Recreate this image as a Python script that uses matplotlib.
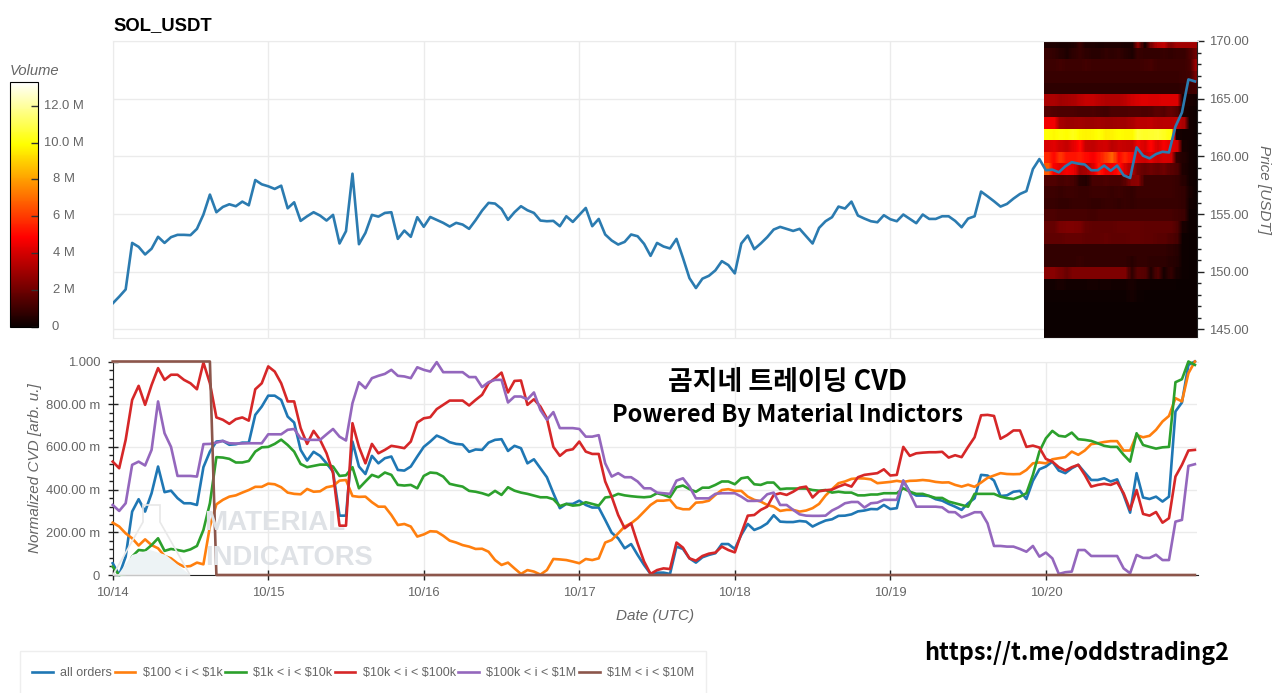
import numpy as np
import pandas as pd
import matplotlib
matplotlib.use("Agg")
import matplotlib.pyplot as plt
from matplotlib.patches import Polygon, Rectangle

plt.rcParams['font.family'] = ['Liberation Sans', 'DejaVu Sans']

hours = pd.date_range('2024-10-14', periods=168, freq='h')

price = [
    147.26, 147.84, 148.47, 152.5, 152.16, 151.5, 152.0, 153.03, 152.5, 153.0, 153.2, 153.2,
    153.17, 153.72, 154.96, 156.69, 155.16, 155.62, 155.85, 155.68, 156.08, 155.76, 157.95, 157.58,
    157.41, 157.18, 157.46, 155.5, 156.02, 154.41, 154.81, 155.16, 154.87, 154.44, 154.93, 152.45,
    153.52, 158.5, 152.39, 153.37, 154.93, 154.78, 155.1, 155.16, 152.85, 153.57, 153.03, 154.73,
    153.9, 154.75, 154.5, 154.24, 153.92, 154.24, 154.09, 153.72, 154.47, 155.3, 155.97, 155.91,
    155.45, 154.5, 155.16, 155.68, 155.33, 155.1, 154.44, 154.38, 154.41, 153.95, 154.81, 154.32,
    154.93, 155.53, 153.95, 154.58, 153.23, 152.71, 152.36, 152.59, 153.23, 153.08, 152.42, 151.38,
    152.5, 152.19, 152.02, 152.85, 151.2, 149.45, 148.59, 149.4, 149.65, 150.12, 150.92, 150.58,
    149.86, 152.45, 153.14, 151.96, 152.45, 153.0, 153.66, 153.89, 153.72, 153.54, 153.72, 153.08,
    152.45, 153.8, 154.38, 154.73, 155.65, 155.48, 156.08, 154.87, 154.61, 154.38, 154.29, 154.9,
    154.55, 154.38, 154.96, 154.58, 154.21, 154.96, 154.58, 154.58, 154.81, 154.81, 154.41, 153.86,
    154.61, 154.81, 156.95, 156.54, 156.11, 155.65, 155.88, 156.34, 156.74, 156.99, 158.9, 159.77,
    158.8, 158.85, 158.62, 159.14, 159.5, 159.37, 159.3, 158.8, 158.8, 159.2, 158.76, 159.2,
    158.36, 158.13, 160.78, 160.06, 159.83, 160.2, 160.4, 160.34, 162.59, 163.8, 166.67, 166.5,
]

all_orders = [
    .055, 0, .086, .297, .355, .297, .383, .508, .388, .395, .36, .336,
    .336, .328, .505, .578, .625, .628, .61, .6125, .62, .62, .75, .789,
    .84, .84, .82, .742, .714, .586, .536, .577, .558, .523, .484, .278,
    .278, .625, .508, .473, .558, .523, .547, .555, .492, .489, .508, .555,
    .60, .625, .653, .64, .622, .614, .611, .577, .588, .586, .62, .633,
    .636, .581, .605, .594, .523, .542, .50, .458, .383, .313, .333, .333,
    .348, .328, .316, .316, .258, .198, .172, .125, .145, .094, .047, .005,
    .011, .011, .005, .133, .122, .078, .058, .083, .094, .102, .145, .145,
    .122, .188, .239, .211, .223, .242, .28, .25, .248, .248, .253, .25,
    .227, .242, .255, .261, .277, .278, .284, .298, .302, .309, .308, .328,
    .309, .313, .442, .39, .372, .372, .37, .355, .348, .333, .32, .305,
    .336, .359, .469, .466, .442, .37, .373, .39, .394, .356, .441, .495,
    .508, .531, .489, .477, .5, .516, .48, .445, .445, .453, .438, .448,
    .375, .292, .477, .363, .356, .367, .344, .367, .766, .808, .984, 1.0,
]

orders_100_1k = [
    .245, .227, .195, .172, .138, .167, .14, .125, .089, .078, .055, .039,
    .042, .058, .05, .227, .331, .352, .367, .373, .386, .398, .413, .413,
    .428, .425, .411, .386, .38, .378, .403, .39, .392, .411, .417, .442,
    .445, .37, .366, .367, .341, .32, .32, .281, .234, .239, .227, .18,
    .19, .205, .203, .184, .161, .152, .14, .133, .122, .123, .109, .07,
    .047, .058, .031, .005, .023, .016, .002, .023, .075, .073, .07, .063,
    .055, .075, .07, .078, .152, .164, .195, .227, .242, .266, .297, .328,
    .348, .348, .352, .316, .308, .308, .339, .341, .348, .375, .398, .402,
    .394, .394, .367, .352, .344, .328, .32, .3, .305, .305, .297, .302,
    .313, .333, .372, .402, .43, .438, .45, .453, .452, .448, .43, .433,
    .436, .441, .436, .441, .442, .445, .442, .436, .433, .434, .422, .414,
    .423, .413, .433, .455, .466, .477, .473, .472, .473, .492, .523, .527,
    .523, .542, .547, .552, .578, .563, .583, .613, .617, .623, .627, .627,
    .583, .583, .656, .645, .652, .68, .719, .745, .828, .813, .945, 1.0,
]

orders_1k_10k = [
    .039, 0, .005, .086, .117, .114, .14, .172, .113, .122, .117, .111,
    .12, .136, .211, .336, .552, .55, .544, .527, .527, .534, .578, .598,
    .60, .614, .634, .609, .578, .52, .505, .511, .517, .517, .508, .464,
    .467, .505, .406, .438, .469, .458, .48, .469, .422, .419, .422, .406,
    .464, .48, .477, .461, .427, .42, .414, .394, .39, .383, .373, .394,
    .375, .411, .395, .386, .38, .372, .364, .364, .355, .323, .333, .325,
    .328, .341, .333, .325, .363, .367, .38, .373, .369, .366, .364, .367,
    .383, .375, .364, .411, .419, .402, .39, .409, .409, .422, .438, .438,
    .425, .453, .458, .425, .422, .433, .433, .402, .405, .405, .405, .405,
    .398, .395, .398, .386, .39, .386, .386, .373, .373, .377, .377, .383,
    .383, .383, .406, .39, .38, .38, .37, .361, .361, .344, .336, .328,
    .32, .38, .38, .38, .38, .367, .36, .356, .367, .383, .469, .578,
    .64, .675, .652, .648, .667, .636, .633, .628, .617, .605, .60, .60,
    .563, .531, .664, .609, .60, .592, .598, .60, .903, .917, 1.0, .984,
]

orders_10k_100k = [
    .531, .50, .633, .82, .886, .797, .89, .969, .914, .938, .938, .914,
    .898, .87, .995, .898, .738, .727, .708, .73, .738, .723, .87, .898,
    .977, .953, .898, .813, .813, .688, .614, .675, .633, .57, .477, .231,
    .231, .711, .60, .523, .614, .57, .586, .605, .60, .594, .625, .714,
    .734, .739, .777, .797, .817, .817, .817, .794, .82, .844, .898, .922,
    .948, .855, .909, .911, .797, .823, .789, .734, .60, .558, .583, .589,
    .625, .578, .567, .567, .438, .367, .281, .219, .242, .148, .063, .005,
    .023, .031, .028, .152, .128, .078, .067, .089, .10, .105, .133, .117,
    .106, .195, .278, .281, .305, .32, .375, .383, .375, .39, .409, .414,
    .363, .392, .397, .40, .414, .425, .414, .458, .469, .473, .477, .495,
    .466, .469, .60, .558, .57, .573, .575, .575, .577, .55, .561, .552,
    .60, .645, .748, .75, .745, .638, .655, .677, .677, .60, .606, .597,
    .544, .531, .505, .489, .505, .516, .469, .414, .422, .427, .422, .434,
    .383, .305, .398, .286, .278, .295, .245, .266, .461, .516, .583, .586,
]

orders_100k_1m = [
    .328, .30, .336, .516, .531, .513, .586, .813, .664, .60, .464, .464,
    .464, .461, .613, .614, .62, .628, .617, .616, .616, .617, .617, .617,
    .659, .659, .659, .68, .684, .64, .633, .633, .633, .659, .684, .648,
    .63, .805, .903, .875, .922, .933, .942, .961, .933, .93, .922, .973,
    .961, .953, .997, .95, .95, .95, .95, .927, .927, .88, .903, .914,
    .914, .808, .836, .836, .823, .855, .773, .727, .763, .688, .688, .688,
    .684, .648, .648, .655, .523, .461, .477, .458, .458, .438, .406, .406,
    .386, .383, .38, .442, .453, .414, .359, .359, .359, .38, .383, .383,
    .383, .367, .347, .347, .348, .378, .386, .328, .328, .305, .284, .278,
    .277, .277, .278, .302, .317, .336, .342, .342, .316, .336, .339, .352,
    .352, .352, .442, .383, .32, .32, .32, .32, .317, .295, .294, .27,
    .281, .294, .294, .242, .136, .136, .133, .133, .122, .109, .136, .086,
    .105, .078, .005, .013, .016, .117, .117, .089, .089, .089, .089, .089,
    .031, .008, .094, .08, .08, .095, .07, .07, .25, .258, .511, .519,
]

orders_1m_10m = [1.0] * 16 + [0.0] * 152

series_labels = ['all orders', r'\$100 < i < \$1k', r'\$1k < i < \$10k',
                 r'\$10k < i < \$100k', r'\$100k < i < \$1M', r'\$1M < i < \$10M']
series_values = [all_orders, orders_100_1k, orders_1k_10k,
                 orders_10k_100k, orders_100k_1m, orders_1m_10m]
series_colors = ['#1f77b4', '#ff7f0e', '#2ca02c', '#d62728', '#9467bd', '#8c564b']

# volume per price bin (M), top row first, one value per hour of 10/20
heat_volume = [
    [.4, .4, .3, .3, .4, .9, .4, .4, .3, .4, .4, .4, .3, .3, 2.5, .3, 2.2, 3.4, 3.6, 2.4, 3.0, 3.0, 3.0, 3.0],
    [.9, .8, .6, .4, .7, .9, .7, .6, .6, .8, .7, .8, .6, .4, .9, .8, .8, .8, .9, .8, .9, .9, 1.3, 2.0],
    [1.0, 1.0, 1.1, 1.0, 1.0, 1.0, 1.1, 1.0, 1.0, 1.0, 1.0, 1.0, 1.0, 1.0, 1.0, 1.1, 1.2, 1.0, 1.0, 1.0, 1.0, 1.0, 1.2, 2.8],
    [.9, .9, .9, .9, .9, .9, .9, .9, .9, .9, .9, .9, .9, .9, .9, .9, .9, .9, .9, .9, .9, 1.0, 1.1, 2.2],
    [.7, .7, .7, .7, .7, .7, .7, .7, .7, .7, .7, .7, .7, .7, .7, .7, .7, .7, .7, .7, .7, .8, 1.0, 1.1],
    [3.2, 3.2, 3.0, 3.1, 3.2, 3.5, 3.7, 3.7, 3.5, 3.3, 3.3, 3.3, 3.5, 3.9, 4.1, 4.2, 4.1, 4.1, 4.2, 4.2, 4.2, .4, .3, .2],
    [1.5, 1.4, 1.3, 1.3, 1.3, 1.2, 1.2, 1.3, 1.2, 1.1, 1.3, 1.3, 1.3, 1.4, 1.4, 1.3, 1.4, 1.6, 1.5, 1.8, 1.5, .3, .2, .1],
    [4.6, 4.6, 3.1, 2.9, 2.9, 3.0, 2.9, 2.9, 3.0, 2.9, 2.9, 3.0, 3.0, 3.2, 3.5, 3.5, 3.6, 3.4, 3.5, 3.5, 3.7, 3.2, .2, .1],
    [10.0, 9.8, 10.0, 9.9, 10.2, 9.8, 9.7, 9.8, 10.0, 9.6, 9.7, 9.9, 9.8, 9.8, 10.6, 10.4, 10.5, 10.6, 10.3, 10.0, .3, .2, .2, .1],
    [4.1, 4.3, 3.9, 3.7, 4.3, 5.0, 3.7, 3.6, 3.9, 4.0, 3.5, 3.8, 3.7, 3.6, 4.5, 4.1, 4.9, 4.1, 4.7, 4.3, 4.1, .3, .2, .1],
    [5.6, 5.0, 5.9, 5.2, 5.2, 5.4, 5.0, 4.7, 5.2, 6.0, 6.8, 5.0, 5.6, 5.0, 4.1, 3.8, 4.3, 3.8, 4.1, 4.0, .8, .5, .2, .1],
    [6.6, 4.7, 4.3, 4.7, 4.5, 2.9, 3.1, 4.1, 5.4, 4.5, 4.5, 5.2, 4.1, 3.2, 2.1, 1.8, 2.0, 1.8, 2.0, 1.6, 1.4, .4, .2, .1],
    [1.4, 1.4, 1.2, 1.3, 1.2, .6, .5, 1.2, 1.2, 1.3, 1.2, 1.2, 1.6, 2.5, 2.6, 1.0, 1.0, 1.0, 1.0, 1.0, .9, .6, .2, .1],
    [1.0, 1.0, .9, 1.0, 1.0, .9, .9, 1.0, 1.0, 1.0, .9, 1.0, .9, .8, 1.0, 1.0, 1.0, 1.0, 1.0, 1.0, .9, .8, .3, .1],
    [.9, .9, .8, .8, .9, .9, .9, .8, .8, .9, .9, .8, .9, .8, .9, .9, .9, .9, .9, .9, .9, .8, .2, .1],
    [1.3, 1.3, 1.2, 1.2, 1.2, 1.2, 1.2, 1.1, 1.2, 1.2, 1.2, 1.2, 1.2, 1.2, 1.2, 1.2, 1.2, 1.2, 1.2, 1.2, 1.1, 1.0, .1, .05],
    [1.8, 1.8, 2.2, 2.3, 2.3, 2.2, 1.8, 1.7, 1.7, 1.7, 1.7, 1.8, 1.8, 1.8, 1.8, 1.7, 1.7, 1.7, 1.7, 1.7, 1.4, .3, .1, .05],
    [1.7, 1.7, 1.7, 1.8, 1.8, 1.8, 1.7, 1.7, 1.7, 1.8, 1.7, 1.7, 1.7, 1.8, 1.8, 1.7, 1.7, 1.6, 1.6, 1.4, 1.2, .1, .05, .05],
    [.8, .8, .8, .8, .8, .8, .8, .8, .8, .8, .8, .8, .8, .8, .8, .8, .8, .8, .8, .7, .6, .1, .05, .05],
    [.8, .8, .8, .8, .8, .9, .8, .8, .8, .8, .8, .8, .8, .6, .8, .8, .7, .7, .7, .6, .5, .1, .05, .05],
    [2.5, 2.5, 2.2, 1.9, 2.3, 2.3, 2.3, 2.3, 2.3, 2.3, 2.3, 2.3, 2.3, .8, 1.6, 1.5, .5, 1.4, .3, .8, .3, .1, .05, .05],
    [.2, .2, .3, .2, .2, .2, .2, .25, .2, .25, .2, .2, .2, .3, .15, .15, .1, .1, .1, .1, .05, .05, .05, .05],
    [.1, .1, .1, .1, .1, .1, .1, .1, .1, .1, .1, .1, .1, .25, .1, .05, .05, .05, .05, .05, .05, .05, .05, .05],
    [.05, .05, .05, .05, .05, .05, .05, .05, .05, .05, .05, .05, .05, .05, .05, .05, .05, .05, .05, .05, .05, .05, .05, .05],
    [.05, .05, .05, .05, .05, .05, .05, .05, .05, .05, .05, .05, .05, .05, .05, .05, .05, .05, .05, .05, .05, .05, .05, .05],
    [.05, .05, .05, .05, .05, .05, .05, .05, .05, .05, .05, .05, .05, .05, .05, .05, .05, .05, .05, .05, .05, .05, .05, .05],
    [.05, .05, .05, .05, .05, .05, .05, .05, .05, .05, .05, .05, .05, .05, .05, .05, .05, .05, .05, .05, .05, .05, .05, .05],
]
heat_top_price = 170.4
heat_start = pd.Timestamp('2024-10-19 23:45')

day_ticks = pd.date_range('2024-10-14', periods=7, freq='D')
day_labels = ['10/14', '10/15', '10/16', '10/17', '10/18', '10/19', '10/20']
price_ticks = [145, 150, 155, 160, 165, 170]
price_labels = ['145.00', '150.00', '155.00', '160.00', '165.00', '170.00']
cvd_ticks = [0, .2, .4, .6, .8, 1.0]
cvd_labels = ['0', '200.00 m', '400.00 m', '600.00 m', '800.00 m', '1.000']
volume_ticks = [0, 2, 4, 6, 8, 10, 12]
volume_labels = ['0', '2 M', '4 M', '6 M', '8 M', '10.0 M', '12.0 M']
volume_max = 13.3

W, H = 1280, 693
GREY = '#666666'
GRID = '#ebebeb'
DARK = '#222222'


def px_axes(left, top, right, bottom):
    return fig.add_axes([left / W, 1 - bottom / H, (right - left) / W, (bottom - top) / H])


def soften(cells, sub=6, size=5):
    # the screenshot's heatmap is blurred along time: split each hour, then box average
    fine = np.repeat(np.array(cells, dtype=float), sub, axis=1)
    padded = np.pad(fine, [(0, 0), (size // 2, size // 2)], mode='edge')
    return np.apply_along_axis(lambda v: np.convolve(v, np.ones(size) / size, mode='valid'), 1, padded)


fig = plt.figure(figsize=(W / 100, H / 100), dpi=100, facecolor='white')
ax_price = px_axes(112.7, 41, 1197.5, 338)
ax_cvd = px_axes(112.7, 361.5, 1197.5, 575)
cax = px_axes(9.5, 81.7, 38.3, 327)

x_start = hours[0]
x_end = hours[0] + pd.Timedelta(hours=167.4)

# price panel
fine_volume = soften(heat_volume)
n_rows, n_cols = fine_volume.shape
fine_prices = np.linspace(heat_top_price, heat_top_price - len(heat_volume), n_rows + 1)
fine_times = pd.date_range(heat_start, periods=n_cols + 1, freq='10min')
mesh = ax_price.pcolormesh(fine_times, fine_prices, fine_volume, cmap='hot',
                           vmin=0, vmax=volume_max, zorder=2)
ax_price.plot(hours, price, color='#2b7bb0', lw=1.9, zorder=3)
ax_price.set_xlim(x_start, x_end)
ax_price.set_ylim(144.26, 170)
ax_price.set_xticks(day_ticks)
ax_price.tick_params(axis='x', length=0, labelbottom=False)
ax_price.yaxis.tick_right()
ax_price.yaxis.set_label_position('right')
ax_price.set_yticks(price_ticks, price_labels)
ax_price.set_yticks(range(145, 170), minor=True)
ax_price.tick_params(axis='y', which='major', length=5, width=1, color=DARK, labelcolor=GREY, labelsize=9.4, pad=3.5)
ax_price.tick_params(axis='y', which='minor', length=3, width=1, color=DARK)
ax_price.grid(True, color=GRID, lw=1, zorder=0)
ax_price.set_axisbelow(True)
for side in ['top', 'left', 'bottom']:
    ax_price.spines[side].set_color(GRID)
ax_price.spines['right'].set_color(DARK)
ax_price.set_ylabel('Price [USDT]', rotation=270, style='italic', color=GREY, fontsize=11, labelpad=16)
fig.text(113 / W, 1 - 25.5 / H, 'SOL_USDT', fontsize=13.3, weight='bold', color='black', va='center')

# CVD panel
for label, values, color in zip(series_labels, series_values, series_colors):
    ax_cvd.plot(hours, values, color=color, lw=1.9, label=label, zorder=3, clip_on=False)
ax_cvd.set_xlim(x_start, x_end)
ax_cvd.set_ylim(0, 1.0)
ax_cvd.set_xticks(day_ticks, day_labels)
ax_cvd.set_yticks(cvd_ticks, cvd_labels)
ax_cvd.set_yticks([i * .04 for i in range(26)], minor=True)
ax_cvd.tick_params(axis='both', which='major', direction='inout', length=7, width=1, color=DARK,
                   labelcolor=GREY, labelsize=9.4)
ax_cvd.tick_params(axis='x', which='major', pad=5)
ax_cvd.tick_params(axis='y', which='major', pad=5.5)
ax_cvd.tick_params(axis='y', which='minor', length=3, width=1, color=DARK)
ax_cvd.grid(True, color=GRID, lw=1, zorder=0)
ax_cvd.set_axisbelow(True)
ax_cvd.spines['top'].set_color(GRID)
ax_cvd.spines['right'].set_visible(False)
ax_cvd.spines['left'].set_color(DARK)
ax_cvd.spines['bottom'].set_color(DARK)
ax_cvd.set_ylabel('Normalized CVD [arb. u.]', style='italic', color=GREY, fontsize=11, labelpad=3)
ax_cvd.set_xlabel('Date (UTC)', style='italic', color=GREY, fontsize=11, labelpad=7.5)

# watermark
flask_outline = [(143, 505), (160, 505), (160, 522), (190, 575), (113, 575), (143, 522)]
flask_fill = [(118, 575), (132, 555), (150, 550), (166, 555), (190, 575)]
fig.add_artist(Polygon([(x / W, 1 - y / H) for x, y in flask_fill], closed=True, transform=fig.transFigure,
                       facecolor='#edf3f5', edgecolor='none', zorder=0.5))
fig.add_artist(Polygon([(x / W, 1 - y / H) for x, y in flask_outline], closed=True, transform=fig.transFigure,
                       facecolor='none', edgecolor='#e8e8e8', lw=1.2, zorder=0.5))
ax_cvd.patch.set_alpha(0)
ax_price.patch.set_alpha(0)
fig.text(204 / W, 1 - 523 / H, 'MATERIAL', fontsize=20, weight='bold', color='#dfe2e6', va='center', zorder=0.6)
fig.text(205 / W, 1 - 558 / H, 'INDICATORS', fontsize=19.7, weight='bold', color='#dfe2e6', va='center', zorder=0.6)

# overlay text
overlay_font = ['Noto Sans CJK KR', 'DejaVu Sans']
fig.text(788 / W, 1 - 381.5 / H, '곰지네 트레이딩 CVD', family=overlay_font, weight='bold', fontsize=19.4,
         ha='center', va='center', color='black', zorder=6)
fig.text(787 / W, 1 - 415 / H, 'Powered By Material Indictors', family=overlay_font, weight='bold', fontsize=17,
         ha='center', va='center', color='black', zorder=6)
fig.text(1077 / W, 1 - 653 / H, 'https://t.me/oddstrading2', family=overlay_font, weight='bold', fontsize=16.8,
         ha='center', va='center', color='black', zorder=6)

# colorbar
cb = fig.colorbar(mesh, cax=cax)
cb.outline.set_edgecolor('black')
cb.set_ticks(volume_ticks)
cb.set_ticklabels([])
cax.tick_params(axis='y', direction='in', length=5, width=1, color='#333333')
for tick, label in zip(volume_ticks, volume_labels):
    x_pos = 55 if label == '0' else 64
    cax.annotate(label, xy=(0, tick), xycoords=('axes fraction', 'data'), xytext=((x_pos - 9.5) * 0.72, 0),
                 textcoords='offset points', ha='center', va='center', color=GREY, fontsize=9.4,
                 annotation_clip=False)
fig.text(10 / W, 1 - 71 / H, 'Volume', style='italic', color=GREY, fontsize=10.6, va='center')

# legend, box drawn separately since it runs off the bottom of the image
fig.add_artist(Rectangle((20 / W, 1 - 700 / H), 686 / W, 49 / H, transform=fig.transFigure,
                         facecolor='white', edgecolor='#eeeeee', lw=1))
handles, labels = ax_cvd.get_legend_handles_labels()
fig.legend(handles, labels, ncol=6, loc='center left', bbox_to_anchor=(32 / W, 1 - 673 / H),
           bbox_transform=fig.transFigure, fontsize=9, frameon=False, handlelength=1.65,
           handletextpad=.6, columnspacing=.2, borderpad=0, borderaxespad=0, labelcolor=GREY)

fig.savefig('out.png', dpi=100)
